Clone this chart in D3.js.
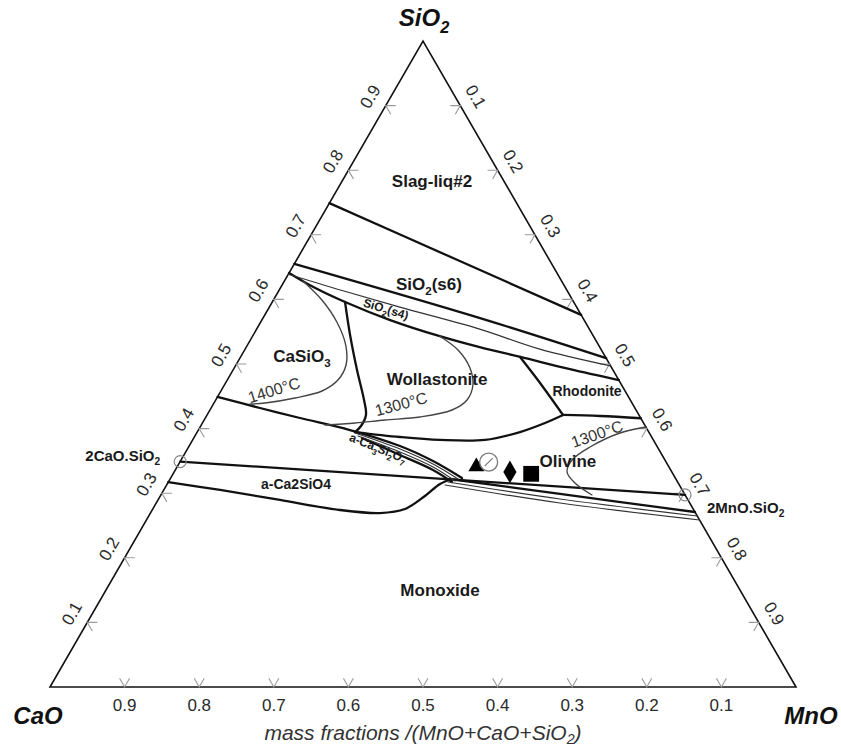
<!DOCTYPE html>
<html><head><meta charset="utf-8">
<script src="https://cdn.jsdelivr.net/npm/d3@7"></script>
<style>
html,body{margin:0;padding:0;background:#fff;}
svg{display:block;font-family:"Liberation Sans",Arial,Helvetica,sans-serif;}
</style></head><body>
<svg id="chart" width="841" height="751"></svg>
<script>
// ---- data: compositions as [MnO, SiO2] mass fractions (CaO = 1 - MnO - SiO2) ----
const tickValues = [0.1,0.2,0.3,0.4,0.5,0.6,0.7,0.8,0.9];
const tickLabels = ["0.1","0.2","0.3","0.4","0.5","0.6","0.7","0.8","0.9"];
const cornerNames = ["CaO","MnO","SiO{2}"];
const axisTitle = "mass fractions /(MnO+CaO+SiO{2})";

const slagLiqBoundary = [[0,0.749],[0.212,0.6625],[0.424,0.576]];
const sio2s6Lower = [[0,0.655],[0.291,0.571],[0.491,0.509]];
const sio2s4Inner = [[0,0.639],[0.0815,0.6146],[0.175,0.588],[0.299,0.554],[0.395,0.523],[0.503,0.497]];
const sio2s4Lower = [[0,0.641],[0.046,0.618],[0.0975,0.596],[0.172,0.568],[0.251,0.543],[0.313,0.526],[0.375,0.511],[0.451,0.492],[0.525,0.475]];
const isotherm1400 = [[0.0249,0.6285],[0.065,0.599],[0.102,0.565],[0.132,0.529],[0.1476,0.4985],[0.1484,0.4752],[0.1355,0.4582],[0.1047,0.4474],[0.0684,0.4396],[0.0491,0.4381]];
const wollastoniteLeft = [[0.0975,0.596],[0.1298,0.5449],[0.1662,0.4907],[0.1988,0.4443],[0.213,0.4211],[0.2149,0.404],[0.2115,0.3947]];
const isotherm1300W = [[0.251,0.543],[0.2861,0.5217],[0.3161,0.4938],[0.3332,0.4675],[0.3369,0.4443],[0.3245,0.4288],[0.287,0.418],[0.2424,0.4133],[0.2046,0.4087],[0.1658,0.4056]];
const wollastoniteLower = [[0.2115,0.3947],[0.2757,0.387],[0.3316,0.3824],[0.392,0.3824],[0.4327,0.3947],[0.4592,0.4087],[0.4771,0.4211]];
const rhodoniteLeft = [[0.3747,0.5108],[0.4216,0.4706],[0.4771,0.4211]];
const rhodoniteLower = [[0.4771,0.4211],[0.5275,0.4195],[0.584,0.416]];
const isotherm1300O = [[0.5975,0.4025],[0.5674,0.3932],[0.5381,0.3715],[0.524,0.3514],[0.5267,0.3328],[0.5458,0.3158],[0.5779,0.2972]];
const ca3si2o7Upper = [[0,0.449],[0.0655,0.4319],[0.1269,0.4164],[0.2032,0.3978],[0.2826,0.3731],[0.3385,0.3498],[0.3905,0.3235]];
const ca3si2o7Band1 = [[0.2122,0.3932],[0.285,0.3684],[0.3408,0.3452],[0.3859,0.322]];
const ca3si2o7Band2 = [[0.2186,0.3885],[0.2873,0.3638],[0.3432,0.3406],[0.3835,0.3189]];
const ca3si2o7Lower = [[0.2255,0.3854],[0.2895,0.3591],[0.3454,0.3359],[0.3802,0.3173]];
const orthosilicateJoin = [[0,0.349],[0.7025,0.2975]];
const ca2sio4Lower = [[0,0.317],[0.0755,0.305],[0.1635,0.2895],[0.2517,0.274],[0.3076,0.2693],[0.3381,0.2755],[0.3548,0.2957],[0.3657,0.3142],[0.3779,0.322]];
const monoxideUpper = [[0.3752,0.322],[0.5343,0.2988],[0.7291,0.2709]];
const monoxideLine2 = [[0.3748,0.3173],[0.5381,0.291],[0.7353,0.2647]];
const monoxideLine3 = [[0.3732,0.3127],[0.5413,0.2848],[0.7415,0.2585]];

const compoundNames = ["2CaO.SiO{2}","2MnO.SiO{2}"];
const compoundComps = [[0,0.349],[0.7025,0.2975]];

const sampleShapes = ["triangle","circle","diamond","square"];
const sampleComps = [[0.401,0.341],[0.414,0.348],[0.450,0.333],[0.480,0.330]];

const regionNames = ["Slag-liq#2","SiO{2}(s6)","SiO{2}(s4)","CaSiO{3}","Wollastonite","Rhodonite","Olivine","a-Ca{3}Si{2}O{7}","a-Ca2SiO4","Monoxide"];
const regionComps = [[0.1204,0.7833],[0.1961,0.6238],[0.1578,0.5851],[0.0816,0.5124],[0.2804,0.4768],[0.4908,0.4582],[0.5194,0.3498],[0.2547,0.37],[0.1727,0.3142],[0.4477,0.1502]];

const isothermNames = ["1400°C","1300°C","1300°C"];
const isothermComps = [[0.0704,0.4598],[0.2515,0.4381],[0.5374,0.3916]];

// ---- layout ----
const svg = d3.select("#chart");
const xS = d3.scaleLinear().domain([0,1]).range([50,796]);
const yS = d3.scaleLinear().domain([0,1]).range([687,41]);
const P = d => [xS(d[0] + d[1]/2), yS(d[1])];
const straight = d3.line().x(d=>P(d)[0]).y(d=>P(d)[1]);
const smooth = d3.line().x(d=>P(d)[0]).y(d=>P(d)[1]).curve(d3.curveCatmullRom.alpha(0.5));

function rich(sel, str, size, shift){
  const sh = shift === undefined ? 0.3 : shift;
  const parts = str.split(/(\{[^}]*\})/).filter(p=>p.length);
  let down = false;
  parts.forEach(p=>{
    if(p[0]==="{"){
      sel.append("tspan").attr("font-size", size*0.68).attr("dy", size*sh).text(p.slice(1,-1));
      down = true;
    } else {
      const t = sel.append("tspan").text(p);
      if(down){ t.attr("dy", -size*sh); down=false; }
    }
  });
}

// triangle outline
svg.append("path")
  .attr("d", straight([[0,0],[1,0],[0,1]]) + "Z")
  .attr("fill","none").attr("stroke","#111").attr("stroke-width",1.6).attr("stroke-linejoin","miter");

// ticks
const tickG = svg.append("g").attr("stroke","#9a9a9a").attr("stroke-width",1.1).attr("fill","none");
const L = 10, c60 = 0.5, s60 = 0.866;
tickValues.forEach(v=>{
  let p = P([1-v,0]);
  tickG.append("path").attr("d",`M${p[0]-L*c60},${p[1]-L*s60}L${p[0]},${p[1]}L${p[0]+L*c60},${p[1]-L*s60}`);
  p = P([0,v]);
  tickG.append("path").attr("d",`M${p[0]+L},${p[1]}L${p[0]},${p[1]}L${p[0]+L*c60},${p[1]+L*s60}`);
  p = P([v,1-v]);
  tickG.append("path").attr("d",`M${p[0]-L},${p[1]}L${p[0]},${p[1]}L${p[0]-L*c60},${p[1]+L*s60}`);
});

// tick labels
const tl = svg.append("g").attr("fill","#2a2a2a").attr("font-size",17).attr("text-anchor","middle");
tickValues.forEach((v,i)=>{
  let p = P([1-v,0]);
  tl.append("text").attr("x",p[0]).attr("y",p[1]+18).attr("dy","0.35em").text(tickLabels[i]);
  p = P([0,v]);
  let q = [p[0]-0.866*18, p[1]-0.5*18];
  tl.append("text").attr("transform",`translate(${q[0]},${q[1]}) rotate(-60)`).attr("dy","0.35em").text(tickLabels[i]);
  p = P([v,1-v]);
  q = [p[0]+0.866*18, p[1]-0.5*18];
  tl.append("text").attr("transform",`translate(${q[0]},${q[1]}) rotate(60)`).attr("dy","0.35em").text(tickLabels[i]);
});

// corner labels
const corners = [[0,0],[1,0],[0,1]];
const cornerOff = [[-12,37],[15,37],[1,-15]];
corners.forEach((c,i)=>{
  const p = P(c);
  const t = svg.append("text").attr("x",p[0]+cornerOff[i][0]).attr("y",p[1]+cornerOff[i][1])
    .attr("text-anchor","middle").attr("font-size",24).attr("font-weight","bold").attr("font-style","italic").attr("fill","#111");
  rich(t, cornerNames[i], 24);
});

// axis title
{
  const p = P([0.5,0]);
  const t = svg.append("text").attr("x",p[0]).attr("y",p[1]+53).attr("text-anchor","middle")
    .attr("font-size",21).attr("font-style","italic").attr("fill","#333");
  rich(t, axisTitle, 21, 0.18);
}

// phase boundaries
const thick = [slagLiqBoundary, sio2s6Lower, sio2s4Lower, wollastoniteLeft, wollastoniteLower, rhodoniteLeft, rhodoniteLower,
  ca3si2o7Upper, ca3si2o7Lower, orthosilicateJoin, ca2sio4Lower, monoxideUpper];
const thin = [sio2s4Inner, ca3si2o7Band1, ca3si2o7Band2, monoxideLine2, monoxideLine3];
const iso = [isotherm1400, isotherm1300W, isotherm1300O];
const lg = svg.append("g").attr("fill","none").attr("stroke-linejoin","round").attr("stroke-linecap","round");
thick.forEach(d=> lg.append("path").attr("d", d.length>2?smooth(d):straight(d)).attr("stroke","#111").attr("stroke-width",2.3));
thin.forEach(d=> lg.append("path").attr("d", d.length>2?smooth(d):straight(d)).attr("stroke","#333").attr("stroke-width",1.2));
iso.forEach(d=> lg.append("path").attr("d", smooth(d)).attr("stroke","#444").attr("stroke-width",1.4));

// compounds
compoundComps.forEach((c,i)=>{
  const p = P(c);
  svg.append("circle").attr("cx",p[0]).attr("cy",p[1]).attr("r",6).attr("fill","none").attr("stroke","#888").attr("stroke-width",1.2);
  const t = svg.append("text").attr("font-size",15).attr("font-weight","bold").attr("fill","#1a1a1a");
  if(i===0) t.attr("x",p[0]-20).attr("y",p[1]-1).attr("text-anchor","end");
  else t.attr("x",p[0]+22).attr("y",p[1]+18).attr("text-anchor","start");
  rich(t, compoundNames[i], 15);
});

// sample points
const sym = {triangle:[d3.symbolTriangle,110], diamond:[d3.symbolDiamond,150], square:[d3.symbolSquare,250]};
sampleComps.forEach((c,i)=>{
  const p = P(c), s = sampleShapes[i];
  if(s==="circle"){
    svg.append("circle").attr("cx",p[0]).attr("cy",p[1]).attr("r",9).attr("fill","none").attr("stroke","#777").attr("stroke-width",1.3);
    svg.append("path").attr("d",`M${p[0]-4},${p[1]+4}L${p[0]+4},${p[1]-4}`).attr("stroke","#777").attr("stroke-width",1.2);
  } else {
    svg.append("path").attr("transform",`translate(${p[0]},${p[1]})`)
      .attr("d", d3.symbol().type(sym[s][0]).size(sym[s][1])()).attr("fill","#000");
  }
});

// region labels
const regionSize = [17,17,12,17,17,14,17,12,14,17];
const regionRot = [0,0,17,0,0,0,0,22,0,0];
regionComps.forEach((c,i)=>{
  const p = P(c);
  const t = svg.append("text").attr("transform",`translate(${p[0]},${p[1]}) rotate(${regionRot[i]})`)
    .attr("dy","0.35em").attr("text-anchor","middle").attr("font-size",regionSize[i]).attr("font-weight","bold").attr("fill","#1a1a1a");
  rich(t, regionNames[i], regionSize[i]);
});

// isotherm labels
const isoRot = [-17,-15,-19];
isothermComps.forEach((c,i)=>{
  const p = P(c);
  svg.append("text").attr("transform",`translate(${p[0]},${p[1]}) rotate(${isoRot[i]})`)
    .attr("dy","0.35em").attr("text-anchor","middle").attr("font-size",16).attr("fill","#333").text(isothermNames[i]);
});
</script>
</body></html>
